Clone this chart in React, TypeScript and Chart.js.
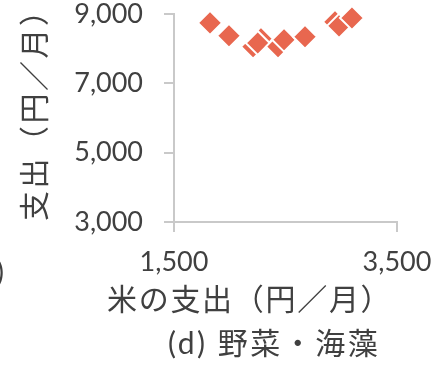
import React, { useEffect, useRef } from "react";
import { Chart, registerables } from "chart.js";

Chart.register(...registerables);

// Monthly spending on rice (x) vs. vegetables & seaweed (y), yen per month
const riceSpending = [1823, 1993, 2209, 2280, 2251, 2433, 2487, 2675, 2944, 2980, 3096];
const vegSpending = [8743, 8373, 8059, 8287, 8165, 8059, 8259, 8344, 8772, 8658, 8886];

const xTicks = [1500, 3500];
const yTicks = [3000, 5000, 7000, 9000];

const xTitle = "米の支出（円／月）";
const yTitle = "支出（円／月）";
const panelLabel = "(d) 野菜・海藻";
const strayParen = ")";

const MARKER = "#E8674F";
const AXIS = "#C9C9C9";
const TEXT = "#404040";
const LATIN = "Lato";
const CJK = '"Noto Sans CJK JP"';

const titlesPlugin = {
  id: "panelTitles",
  afterDraw(chart: any) {
    const { ctx, chartArea } = chart;
    ctx.save();
    ctx.fillStyle = TEXT;
    ctx.textBaseline = "middle";
    ctx.textAlign = "left";

    // x-axis title
    ctx.font = `30px ${LATIN}, ${CJK}`;
    ctx.letterSpacing = "1.7px";
    ctx.fillText(xTitle, chartArea.left - 67, chartArea.bottom + 78);

    // panel caption
    ctx.letterSpacing = "2.5px";
    ctx.fillText(panelLabel, chartArea.left - 6, chartArea.bottom + 122);

    // y-axis title, rotated
    ctx.save();
    ctx.translate(35, chartArea.bottom - 1);
    ctx.rotate(-Math.PI / 2);
    ctx.letterSpacing = "2.5px";
    ctx.fillText(yTitle, 0, 0);
    ctx.restore();

    // edge of the neighbouring panel's caption
    ctx.letterSpacing = "0px";
    ctx.font = `28px ${LATIN}`;
    ctx.textAlign = "right";
    ctx.fillText(strayParen, 4, chartArea.bottom + 51);
    ctx.restore();
  },
};

export default function App() {
  const canvasRef = useRef<HTMLCanvasElement | null>(null);

  useEffect(() => {
    let chart: Chart | null = null;
    let cancelled = false;

    const build = () => {
      if (cancelled || !canvasRef.current) return;
      chart = new Chart(canvasRef.current, {
        type: "scatter",
        data: {
          datasets: [
            {
              data: riceSpending.map((x, i) => ({ x, y: vegSpending[i] })),
              pointStyle: "rectRot",
              pointRadius: 12,
              pointHoverRadius: 12,
              pointBackgroundColor: MARKER,
              pointBorderColor: "#FFFFFF",
              pointBorderWidth: 2,
              clip: false,
            },
          ],
        },
        options: {
          animation: false,
          responsive: false,
          events: [],
          layout: { padding: { left: 0, right: 39, top: 12, bottom: 0 } },
          plugins: {
            legend: { display: false },
            tooltip: { enabled: false },
            title: { display: false },
          },
          scales: {
            x: {
              type: "linear",
              min: 1500,
              max: 3500,
              afterBuildTicks: (s: any) => {
                s.ticks = xTicks.map((value) => ({ value }));
              },
              afterFit: (s: any) => {
                s.height = 143;
                s.paddingLeft = 0;
                s.paddingRight = 0;
              },
              grid: {
                drawOnChartArea: false,
                drawTicks: true,
                tickLength: 10,
                color: AXIS,
                lineWidth: 2,
              },
              border: { display: true, color: AXIS, width: 2 },
              ticks: {
                padding: 14,
                color: TEXT,
                font: { family: LATIN, size: 27 },
                maxRotation: 0,
                callback: (v: any) => Number(v).toLocaleString("en-US"),
              },
            },
            y: {
              type: "linear",
              min: 3000,
              max: 9000,
              afterBuildTicks: (s: any) => {
                s.ticks = yTicks.map((value) => ({ value }));
              },
              afterFit: (s: any) => {
                s.width = 174;
                s.paddingTop = 0;
                s.paddingBottom = 0;
              },
              grid: {
                drawOnChartArea: false,
                drawTicks: true,
                tickLength: 10,
                color: AXIS,
                lineWidth: 2,
              },
              border: { display: true, color: AXIS, width: 2 },
              ticks: {
                padding: 21,
                color: TEXT,
                font: { family: LATIN, size: 27 },
                callback: (v: any) => Number(v).toLocaleString("en-US"),
              },
            },
          },
        },
        plugins: [titlesPlugin],
      });
    };

    Promise.all([
      document.fonts.load(`27px ${LATIN}`),
      document.fonts.load(`30px ${CJK}`, "米の支出円月野菜海藻"),
    ])
      .catch(() => undefined)
      .then(build);

    return () => {
      cancelled = true;
      if (chart) chart.destroy();
    };
  }, []);

  return (
    <div style={{ position: "absolute", left: 0, top: 0, width: 436, height: 365, background: "#FFFFFF" }}>
      <canvas ref={canvasRef} width={436} height={365} />
    </div>
  );
}
